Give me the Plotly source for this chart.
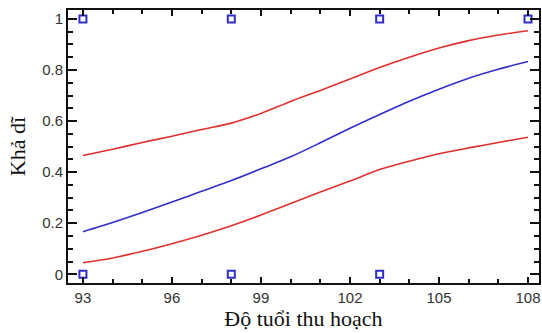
import plotly.graph_objects as go

age = [93, 94, 95, 96, 97, 98, 99, 100, 101, 102, 103, 104, 105, 106, 107, 108]
prob_fit = [0.167, 0.203, 0.242, 0.283, 0.325, 0.367, 0.413, 0.46, 0.515, 0.572, 0.626, 0.678, 0.725, 0.768, 0.803, 0.833]
prob_upper = [0.465, 0.49, 0.516, 0.541, 0.567, 0.592, 0.63, 0.677, 0.72, 0.765, 0.81, 0.85, 0.886, 0.915, 0.937, 0.954]
prob_lower = [0.045, 0.064, 0.09, 0.12, 0.153, 0.19, 0.232, 0.277, 0.322, 0.365, 0.41, 0.443, 0.472, 0.495, 0.516, 0.537]

obs_age = [93, 93, 98, 98, 103, 103, 108]
obs_val = [0, 1, 1, 0, 1, 0, 1]

x_ticks = [93, 96, 99, 102, 105, 108]
y_ticks = [0, 0.2, 0.4, 0.6, 0.8, 1]
y_ticklabels = ["0", "0.2", "0.4", "0.6", "0.8", "1"]

red = "#e0302c"
blue = "#2f2fc8"
tick_font = dict(family="Liberation Sans Narrow, Arial Narrow, Liberation Sans", size=15, color="#333")
title_font = dict(family="Liberation Serif, Times New Roman", size=22, color="#111")

fig = go.Figure()
fig.add_trace(go.Scatter(x=age, y=prob_upper, mode="lines", line=dict(color=red, width=1.6, shape="spline", smoothing=0.8), showlegend=False))
fig.add_trace(go.Scatter(x=age, y=prob_lower, mode="lines", line=dict(color=red, width=1.6, shape="spline", smoothing=0.8), showlegend=False))
fig.add_trace(go.Scatter(x=age, y=prob_fit, mode="lines", line=dict(color=blue, width=1.6, shape="spline", smoothing=0.8), showlegend=False))
fig.add_trace(go.Scatter(x=obs_age, y=obs_val, mode="markers", cliponaxis=False,
                         marker=dict(symbol="square-open", size=7, color=blue, line=dict(width=2, color=blue)),
                         showlegend=False))

fig.update_layout(
    width=542, height=333,
    margin=dict(l=68, r=1, t=10, b=50),
    paper_bgcolor="white", plot_bgcolor="white",
    font=dict(family="Liberation Sans, Arial", size=12, color="#333"),
)
fig.update_xaxes(
    range=[92.497, 108.37], tickvals=x_ticks, ticktext=[str(v) for v in x_ticks],
    showgrid=False, zeroline=False, showline=True, linecolor="#111", linewidth=2, mirror="ticks",
    ticks="inside", ticklen=6, tickwidth=1.5, tickcolor="#111",
    minor=dict(dtick=1, tick0=93, ticks="inside", ticklen=4, tickwidth=1.5, tickcolor="#111"),
    tickfont=tick_font,
    title=dict(text="Độ tuổi thu hoạch", font=title_font, standoff=2),
)
fig.update_yaxes(
    range=[-0.034, 1.035], tickvals=y_ticks, ticktext=y_ticklabels,
    showgrid=False, zeroline=False, showline=True, linecolor="#111", linewidth=2, mirror="ticks",
    ticks="inside", ticklen=9, tickwidth=1.5, tickcolor="#111",
    minor=dict(dtick=0.05, tick0=0, ticks="inside", ticklen=5, tickwidth=1.5, tickcolor="#111"),
    tickfont=tick_font,
    title=dict(text="Khả dĩ", font=title_font, standoff=10),
)

fig.write_html("out.html")
